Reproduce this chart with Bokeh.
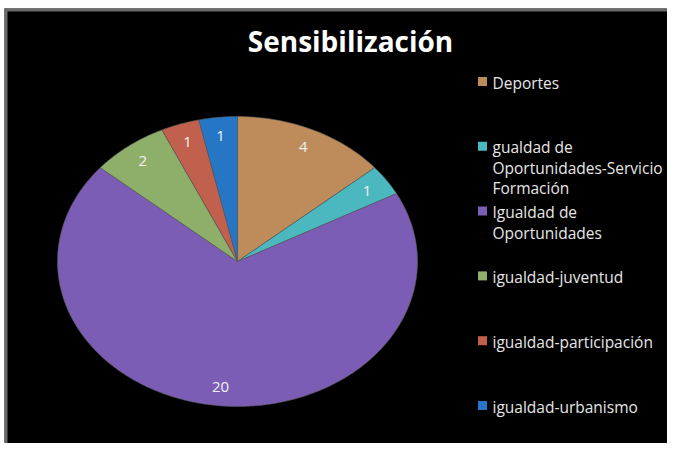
import numpy as np
from bokeh.plotting import figure
from bokeh.models import Range1d
from bokeh.core.properties import value
from bokeh.embed import file_html
from bokeh.resources import INLINE

title = "Sensibilización"
categories = ["Deportes",
              "gualdad de\nOportunidades-Servicio\nFormación",
              "Igualdad de\nOportunidades",
              "igualdad-juventud",
              "igualdad-participación",
              "igualdad-urbanismo"]
values = [4, 1, 20, 2, 1, 1]
colors = ["#BE8C5A", "#4BB8C0", "#7B5DB5", "#8DAF6A", "#C0604D", "#2577C6"]

# layout constants (pixel coordinates)
W, H = 667, 443
CX, CY, RX, RY = 237, 261, 180, 145
LABEL_F = 0.87
LEG_X, LEG_Y0, LEG_DY = 482, 81, 64.8
FONT = "Open Sans"

p = figure(width=W, height=H, output_backend="svg", toolbar_location=None,
           x_range=Range1d(0, W), y_range=Range1d(H, 0),
           min_border=0, background_fill_color="white",
           border_fill_color="white", outline_line_color=None)
p.axis.visible = False
p.grid.visible = False

# black chart area with gray left/top edge
p.quad(left=[4], right=[W + 10], top=[8], bottom=[H + 10],
       fill_color="black", line_color=None)
p.segment(x0=[5.5, 4], y0=[8, 9.5], x1=[5.5, W + 10], y1=[H + 10, 9.5],
          line_color="#6a6a6a", line_width=3)

total = sum(values)
cum = np.concatenate([[0], np.cumsum(values)]) / total * 2 * np.pi
xs, ys, lx, ly = [], [], [], []
for i in range(len(values)):
    a0, a1 = cum[i], cum[i + 1]
    t = np.linspace(a0, a1, max(8, int((a1 - a0) * 80)))
    xs.append([CX] + list(CX + RX * np.sin(t)) + [CX])
    ys.append([CY] + list(CY - RY * np.cos(t)) + [CY])
    m = (a0 + a1) / 2
    lx.append(CX + LABEL_F * RX * np.sin(m))
    ly.append(CY - LABEL_F * RY * np.cos(m))

p.patches(xs, ys, fill_color=colors, line_color="#5a5a5a", line_width=0.6)
p.text(lx, ly, text=[str(v) for v in values], text_color="#F2F2F2",
       text_font=value(FONT), text_font_size="15px",
       text_align="center", text_baseline="middle")

# title
p.text([350], [40], text=[title], text_color="white", text_font=value(FONT),
       text_font_size="28px", text_font_style="bold",
       text_align="center", text_baseline="middle")

# legend
n = len(categories)
leg_y = [LEG_Y0 + i * LEG_DY for i in range(n)]
p.rect([LEG_X] * n, leg_y, width=9, height=9, fill_color=colors, line_color=None)
p.text([LEG_X + 10] * n, [y - 10 for y in leg_y], text=categories,
       text_color="#E6E6E6", text_font=value(FONT), text_font_size="15.5px",
       text_align="left", text_baseline="top", text_line_height=0.93)

open("out.html", "w").write(file_html(p, INLINE))
